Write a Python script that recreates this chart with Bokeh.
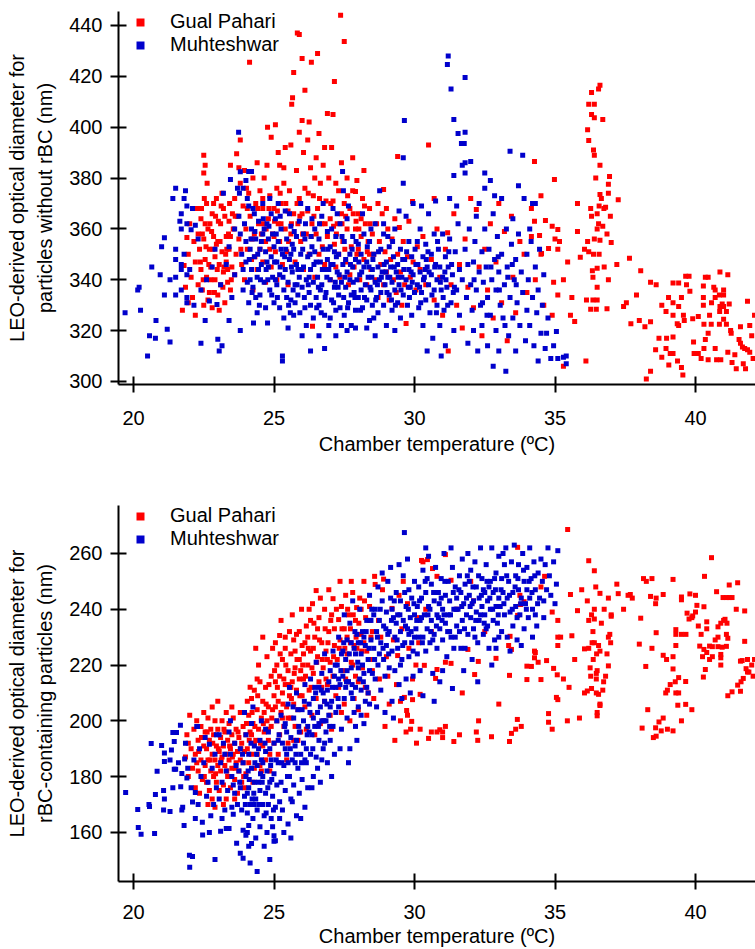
from bokeh.plotting import figure
from bokeh.models import Range1d, Legend, LegendItem, FixedTicker, ColumnDataSource
from bokeh.layouts import column
from bokeh.embed import file_html
from bokeh.resources import INLINE

# ---------------- data (x = chamber temperature degC, y = diameter nm) ----------------
x_ticks = [20, 25, 30, 35, 40]
y_ticks_top = [300, 320, 340, 360, 380, 400, 420, 440]
y_ticks_bot = [160, 180, 200, 220, 240, 260]
series_names = ["Gual Pahari", "Muhteshwar"]

muh_top = [
 (19.7,327),(20.15,336),(20.2,337),(20.25,328),(20.5,310),(20.57,318),(20.65,345),(20.78,317),(20.8,324),(20.95,342),
 (21.0,353),(21.1,356.5),(21.1,334),(21.2,320.5),(21.3,315.5),(21.5,376),(21.5,352),(21.5,348),(21.5,341),(21.5,334),
 (21.65,363),(21.7,366),(21.7,360),(21.7,346),(21.7,344),(21.7,336),(21.8,372),(21.85,375),(21.9,369),(21.9,362),
 (21.9,342),(21.9,333),(21.9,331),(22.05,359.7),(22.15,330),(22.2,361.4),(22.4,315),(22.55,324),(22.7,331.6),(22.97,330.3),
 (23.0,316.6),(23.05,312),(23.15,314),(23.2,374),(23.4,324),(23.45,379.4),(23.7,376),(23.74,398),(23.77,374),(23.8,382.5),
 (23.8,320),(23.9,376),(24.0,379),(24.1,382.6),(24.2,382.6),(21.3,340),(21.4,372),(22.1,368),(22.3,356),(22.6,340),
 (22.8,345),(22.9,352),(23.1,338),(23.3,346),(23.4,353),(23.5,333),(23.6,342),(23.6,360),(22.4,336),(21.8,350),(22.0,344),
 (23.75,365),(23.8,358),(23.85,350),(23.9,344),(23.9,336),(23.95,362),(24.0,355),(24.0,347),(24.05,339),(24.1,369),
 (24.1,331),(24.15,352),(24.2,360),(24.2,344),(24.25,337),(24.27,323),(24.3,366),(24.3,349),(24.35,356),(24.4,341),
 (24.4,327),(24.45,363),(24.5,352),(24.5,334),(24.55,346),(24.6,358),(24.6,370),(24.65,339),(24.7,351),(24.7,329),
 (24.75,362),(24.77,323),(24.8,345),(24.8,356),(24.85,336),(24.9,349),(24.9,366),(24.95,341),(25.0,353),(25.0,331),
 (24.05,372),(24.25,368),(24.45,344),(24.65,360),(24.85,372),(24.15,340),(24.35,333),(24.55,355),(24.75,347),(24.95,358),
 (25.05,364),(25.1,347),(25.1,338),(25.15,355),(25.2,342),(25.2,329),(25.25,360),(25.3,308),(25.3,310),(25.3,350),
 (25.35,336),(25.4,344),(25.4,367),(25.45,356),(25.5,321),(25.5,339),(25.55,348),(25.6,332),(25.6,361),(25.65,343),
 (25.7,352),(25.7,326),(25.75,338),(25.8,357),(25.8,346),(25.85,334),(25.9,363),(25.9,341),(25.95,350),(26.0,318),
 (26.0,337),(26.05,345),(26.1,356),(26.1,329),(26.15,340),(26.2,349),(26.2,368),(26.25,335),(26.3,312),(26.3,344),
 (26.35,353),(26.4,339),(26.4,325),(26.45,360),(26.5,347),(26.5,333),(25.15,370),(25.35,325),(25.55,366),(25.75,331),
 (25.95,370),(26.15,322),(26.35,364),(25.25,352),(25.45,333),(25.65,354),(25.85,344),(26.05,358),(26.25,341),(26.45,351),
 (25.05,340),(25.6,350),(26.3,330),
 (26.55,341),(26.6,356),(26.6,330),(26.65,347),(26.7,338),(26.7,365),(26.75,352),(26.8,326),(26.8,344),(26.85,335),
 (26.9,359),(26.9,348),(26.95,322),(27.0,340),(27.0,353),(27.05,332),(27.1,346),(27.1,368),(27.15,337),(27.2,357),
 (27.2,328),(27.25,343),(27.3,350),(27.3,334),(27.35,362),(27.4,339),(27.44,382.6),(27.45,346),(27.47,375),(27.5,326),
 (27.5,355),(27.55,337),(27.6,343),(27.6,364),(27.65,331),(27.7,350),(27.7,340),(27.75,322),(27.8,357),(27.8,345),
 (27.85,335),(27.9,348),(27.9,328),(27.95,340),(28.0,354),(28.0,333),(26.6,318),(26.8,313),(27.0,325),(27.2,318),
 (27.4,322),(27.6,320),(27.9,321),(26.75,370),(27.25,366),(27.65,369),(26.95,344),(27.15,351),(27.35,329),(27.55,348),
 (27.75,334),(26.65,336),(27.05,360),
 (28.05,342),(28.1,336),(28.1,350),(28.15,329),(28.2,345),(28.2,358),(28.25,338),(28.3,332),(28.3,347),(28.35,341),
 (28.4,324),(28.4,355),(28.45,336),(28.5,344),(28.5,330),(28.55,350),(28.6,339),(28.6,362),(28.65,333),(28.7,345),
 (28.7,327),(28.75,340),(28.76,375),(28.8,352),(28.8,335),(28.85,343),(28.9,330),(28.9,358),(28.95,338),(29.0,347),
 (29.0,322),(29.05,341),(29.1,334),(29.1,353),(29.15,345),(29.2,328),(29.2,339),(29.25,349),(29.3,336),(29.3,360),
 (29.35,343),(29.4,331),(29.4,346),(29.45,338),(29.5,352),(29.5,325),(29.55,341),(29.6,334),(29.6,378),(29.6,388),
 (29.64,402.6),(29.65,348),(29.7,340),(29.7,365),(29.75,330),(29.8,344),(29.8,355),(29.85,337),(29.9,349),(29.9,326),
 (29.95,342),(30.0,335),(28.3,321),(28.6,318),(28.9,362),(29.3,320),(28.15,366),(28.45,360),(29.45,367),(29.95,370),
 (28.55,325),(29.05,357),
 (30.05,346),(30.1,338),(30.1,355),(30.15,329),(30.2,343),(30.2,360),(30.25,335),(30.3,349),(30.3,322),(30.35,341),
 (30.4,354),(30.4,332),(30.45,345),(30.5,338),(30.5,366),(30.55,327),(30.6,350),(30.6,342),(30.65,317),(30.7,336),
 (30.7,358),(30.75,346),(30.8,330),(30.8,340),(30.85,352),(30.9,322),(30.9,345),(30.95,336),(31.0,358),(31.0,341),
 (31.05,328),(31.1,349),(31.1,314),(31.15,337),(31.17,424.7),(31.2,428),(31.2,345),(31.25,356),(31.3,415),(31.3,331),
 (31.35,342),(31.4,403),(31.4,381),(31.4,320),(31.45,351),(31.5,336),(31.55,397.5),(31.55,362),(31.6,344),(31.6,326),
 (31.67,393.6),(31.7,385),(31.7,340),(31.77,393.6),(31.8,419.5),(31.8,398),(31.8,386),(31.8,382),(31.8,352),(31.85,333),
 (31.9,315),(31.9,346),(31.95,360),(32.0,386.5),(32.0,338),(30.25,369),(30.75,371),(31.25,372),(30.45,312),(30.95,310),
 (31.5,369),
 (32.05,328),(32.1,347),(32.1,320),(32.15,355),(32.2,336),(32.2,365),(32.25,312),(32.3,343),(32.35,330),(32.4,351),
 (32.4,322),(32.45,339),(32.5,382),(32.5,376),(32.5,360),(32.55,345),(32.6,314),(32.6,333),(32.65,352),(32.7,379),
 (32.7,326),(32.75,340),(32.8,306),(32.8,366),(32.85,348),(32.9,320),(32.9,336),(32.95,357),(33.0,343),(33.0,312),
 (33.05,330),(33.1,372),(33.1,350),(33.15,325),(33.2,338),(33.25,304),(33.27,360),(33.3,345),(33.35,318),(33.4,390.5),
 (33.4,333),(33.45,354),(33.5,325),(33.5,364),(33.55,340),(33.6,312),(33.6,348),(33.65,331),(33.7,358),(33.75,322),
 (33.8,343),(33.85,389),(33.85,335),(33.9,372),(33.95,316),(34.0,350),(32.3,370),(32.85,373),(33.7,377),(34.0,328),
 (34.05,340),(34.1,322),(34.15,355),(34.2,370),(34.2,333),(34.25,314),(34.3,370),(34.3,345),(34.35,327),(34.4,336),
 (34.45,352),(34.5,319),(34.55,330),(34.6,342),(34.65,313),(34.7,319),(34.75,325),(34.85,309),(34.95,314),(35.05,319.6),
 (35.1,309),(35.3,309.5),(35.4,307),(35.4,310),(34.1,360),(34.4,308),
]

muh_top_core = [
 (24.12,348),(24.22,335),(24.32,359),(24.42,350),(24.52,340),(24.62,364),(24.72,344),(24.82,361),(24.92,334),(25.02,347),
 (25.12,333),(25.22,365),(25.32,341),(25.42,352),(25.52,330),(25.62,345),(25.72,359),(25.82,338),(25.92,327),(26.02,352),
 (26.12,362),(26.22,338),(26.32,357),(26.42,346),(26.52,329),(26.62,362),(26.72,344),(26.82,333),(26.92,352),(27.02,346),
 (27.12,331),(27.22,349),(27.32,342),(27.42,357),(27.52,341),(27.62,329),(27.72,346),(27.82,339),(27.92,355),(28.02,347),
 (28.12,343),(28.22,333),(28.32,353),(28.42,337),(28.52,348),(28.62,332),(28.72,351),(28.82,341),(28.92,346),(29.02,335),
 (29.12,341),(29.22,355),(29.32,330),(29.42,341),(29.52,336),(29.62,344),(29.72,351),(29.82,333),(29.92,339),(30.02,352),
 (30.12,346),(30.22,331),(30.32,340),(30.42,348),(30.52,343),(30.62,334),(30.72,345),(30.82,355),(30.92,339),(31.02,333),
 (31.12,340),(31.22,351),(31.32,346),(31.42,337),(24.18,356),(24.48,330),(24.78,340),(25.08,358),(25.38,349),(25.68,336),
 (25.98,344),(26.28,350),(26.58,337),(26.88,341),(27.18,339),(27.48,333),(27.78,352),(28.08,328),(28.38,345),(28.68,338),
 (28.98,343),(29.28,345),(29.58,348),(29.88,343),(30.18,337),(30.48,351),(30.78,327),(31.08,343),(31.38,335),(25.22,345),
 (25.58,327),(26.08,333),(26.68,327),(27.28,337),(27.88,333),(28.48,341),(29.18,332),(29.78,337),(30.38,344),(31.18,330),
 (32.12,340),(32.42,331),(32.72,345),(33.02,336),(33.32,341),(33.62,338),(32.58,326),(32.98,349),(33.22,322),(33.48,346),
]

gual_top = [
 (21.74,328),(21.8,345.6),(21.9,356.6),(21.85,337),(21.95,350),(22.0,362),(22.05,341),(22.1,333),(22.15,355),(22.2,326),
 (22.2,347),(22.25,368),(22.3,338),(22.3,358),(21.95,331),
 (22.35,352),(22.4,344),(22.4,364),(22.45,336),(22.5,389),(22.5,382),(22.5,356),(22.5,330),(22.55,385),(22.55,348),
 (22.6,341),(22.6,370),(22.65,360),(22.7,335),(22.7,352),(22.75,345),(22.8,366),(22.8,329),(22.85,357),(22.9,340),
 (22.9,349),(22.95,372),(23.0,334),(23.0,355),(23.05,346),(23.1,362),(23.1,338),(23.15,351),(23.2,343),(23.2,368),
 (23.25,331),(23.3,357),(23.3,347),(23.35,339),(23.4,363),(23.4,352),(23.45,385),(23.45,336),(23.5,345),(22.45,358),
 (22.65,332),(22.85,370),(23.05,328),(23.25,365),(23.45,357),(22.55,362),(22.75,340),(22.95,354),(23.15,374),(23.35,344),
 (23.55,360),(23.6,372),(23.67,389.6),(23.65,350),(23.7,365),(23.75,356),(23.8,395),(23.8,378),(23.85,346),(23.9,369),
 (23.95,383),(24.0,360),(24.05,352),(24.1,374),(24.13,425.5),(24.15,365),(24.2,348),(24.25,380),(24.3,358),(24.35,370),
 (24.4,344),(24.45,362),(24.5,375),(24.5,352),(23.6,342),(23.95,340),(24.25,336),(24.4,386),(23.75,384),(24.05,368),
 (24.55,358),(24.6,347),(24.6,368),(24.65,380),(24.7,339),(24.7,355),(24.77,400),(24.8,364),(24.85,373),(24.9,396),
 (24.9,345),(24.95,358),(25.0,368),(25.05,401),(25.05,351),(25.1,376),(25.1,340),(25.15,362),(25.2,385),(25.2,355),
 (25.25,370),(25.3,346),(25.35,378),(25.4,360),(25.4,392),(25.45,351),(25.5,367),(25.5,338),(24.75,385),(25.25,362),
 (24.6,372),(25.0,357),(25.35,384),(24.85,352),(25.15,390),
 (25.55,375),(25.6,358),(25.63,409),(25.66,411.6),(25.7,421.5),(25.7,366),(25.75,347),(25.8,383),(25.83,437),(25.85,362),
 (25.9,436.5),(25.9,372),(25.95,355),(26.0,427),(26.0,402.6),(26.0,366),(26.05,390),(26.05,344),(26.1,414.5),(26.1,376),
 (26.15,358),(26.2,395),(26.2,367),(26.25,350),(26.3,384),(26.33,425.5),(26.35,362),(26.37,321.7),(26.4,373),(26.45,341),
 (26.5,388),(26.5,358),(26.55,429),(26.55,368),(26.6,397.5),(26.6,350),(26.65,378),(26.7,362),(26.75,385),(26.8,346),
 (26.85,371),(26.9,405.4),(26.9,357),(26.95,380),(27.0,364),(27.0,340),(27.05,392),(27.1,405),(27.1,371),(27.15,418),
 (27.15,354),(27.2,378),(27.2,345),(25.6,393),(25.9,398),(26.25,402),(26.8,392),(26.45,380),
 (27.25,362),(27.3,350),(27.3,375),(27.35,341),(27.37,444),(27.4,366),(27.45,355),(27.5,433.7),(27.5,370),(27.55,347),
 (27.6,360),(27.6,380),(27.65,338),(27.7,368),(27.75,353),(27.8,375),(27.85,345),(27.9,374.7),(27.9,360),(27.95,379),
 (27.95,350),(28.0,366),(28.05,340),(28.1,357),(28.15,372),(28.2,348),(28.25,362),(28.3,338),(28.35,355),(28.4,368),
 (28.45,344),(28.5,358),(27.4,386),(27.8,388),(28.2,383),(27.55,365),(28.0,352),(28.4,350),(27.7,342),(28.1,364),
 (28.55,350),(28.6,340),(28.65,362),(28.7,333),(28.75,355),(28.8,346),(28.85,366),(28.9,375.5),(28.9,338),(28.95,351),
 (29.0,343),(29.05,360),(29.1,332),(29.15,348),(29.2,356),(29.25,340),(29.3,364),(29.35,335),(29.4,388.5),(29.4,350),
 (29.46,360.5),(29.5,343),(29.55,330),(29.6,355),(29.65,338),(29.7,322.8),(29.75,349),(29.8,363),(29.85,341),(29.93,370.8),
 (29.95,347),(30.05,336),(30.1,353),(30.2,344),(30.3,357),(30.4,338),(30.5,393),(29.0,368),(28.7,370),
 (30.6,348),(30.7,332),(30.8,360),(30.9,341),(31.0,326),(31.1,352),(31.18,358.5),(31.3,338),(31.4,366),(31.5,330),
 (31.6,346),(31.7,321),(31.8,356),(31.9,337),(32.0,372),(32.1,329),(32.2,367.6),(32.3,345),(32.4,318),(32.5,352),
 (32.6,336),(32.7,362),(32.8,325),(32.9,347),(33.0,370),(33.1,331),(33.2,359),(33.3,316),(33.45,365),(33.5,341),
 (33.6,327),(33.75,355),(33.9,350),(34.0,335),(30.7,372),(31.2,312),
 (34.16,368),(34.16,357),(34.27,386.5),(34.27,363),(34.45,357.4),(34.5,373),(34.5,350),(34.52,350.3),(34.66,363.3),(34.77,352.3),
 (34.9,361),(34.9,326),(34.95,339),(34.98,379.4),(35.0,356),(35.1,359.8),(35.1,352),(35.1,334),(35.16,355),(35.3,306),
 (35.45,347),(35.55,326),(35.6,333),(35.7,323.6),(35.8,370),(35.8,359),(35.9,348.8),(36.1,308),(34.3,340),(34.6,330),
 (35.3,340),
 (36.05,352),(36.12,332),(36.16,399),(36.16,355),(36.2,409),(36.2,394.8),(36.2,351),(36.27,368),(36.27,328.4),(36.3,413.6),
 (36.3,405),(36.3,365),(36.33,343.5),(36.35,341),(36.35,332),(36.37,391),(36.37,350),(36.4,409),(36.4,403.7),(36.4,389),
 (36.47,328.4),(36.5,366),(36.5,360),(36.5,344.5),(36.5,337),(36.5,332),(36.55,415),(36.57,369),(36.57,350),(36.6,416.5),
 (36.6,373.5),(36.6,355.5),(36.65,372),(36.7,403),(36.7,361),(36.74,368),(36.8,368.5),(36.85,358),(36.85,328.6),(36.9,377.6),
 (36.9,374),(36.94,380.6),(36.97,365),(37.0,354.6),(36.45,380),(36.6,385),(36.75,345),(36.9,340),(36.55,362),(36.4,356),
 (37.2,346),(37.25,371.5),(37.44,329.5),(37.54,331),(37.65,348.5),(37.7,322.7),(38.0,324),(38.05,343.5),(38.15,297.7),(38.2,321.5),
 (38.25,301),(38.4,304),(38.4,339),(38.4,323.5),(38.58,312.5),(38.6,338),(38.7,317),(38.8,309.5),(38.8,330),(37.9,334),
 (38.95,313),(38.95,327.5),(38.97,317),(39.04,333),(39.05,306.5),(39.1,311),(39.2,311),(39.2,317.5),(39.2,326),(39.2,331),
 (39.2,338.7),(39.35,322.7),(39.36,308),(39.4,322),(39.4,329.5),(39.4,338.7),(39.5,305.5),(39.5,333),(39.55,302.5),(39.57,326),
 (39.6,324),(39.65,341.4),(39.68,338),(39.77,341.4),(39.8,335.5),(39.9,324.7),(39.93,315.5),(39.95,311),(40.1,311),(40.1,325.5),
 (40.2,309),(40.28,330),(40.28,333),(40.28,337.5),(40.3,313),(40.3,322.5),(40.35,316.5),(40.35,341),(40.45,319),(40.45,308.5),
 (40.45,341),(40.5,326),(40.56,322.5),(40.57,331),(40.65,337),(40.7,313),(40.7,333),(40.7,336),(40.75,308.5),(40.85,334),
 (40.85,322.5),(40.86,327.5),(40.87,329.5),(40.87,343),(40.9,308.5),(40.95,330.5),(41.0,334),(41.0,329.5),(41.0,324.5),(41.0,336),
 (41.1,327.5),(41.1,322.5),(41.15,342),(41.15,311.5),(41.2,330.5),(41.25,320),(41.27,319),(41.3,307.5),(41.4,310.5),(41.45,305),
 (41.55,316.5),(41.6,315),(41.6,321.5),(41.67,313.5),(41.7,307),(41.75,313),(41.78,305),(41.85,312.5),(41.85,331.5),(41.93,311.5),
 (41.93,322),(42.0,318),(42.05,309),(42.1,326),
]

gual_top_core = [
 (22.38,347),(22.48,340),(22.58,353),(22.68,346),(22.78,359),(22.88,335),(22.98,344),(23.08,355),(23.18,337),(23.28,350),
 (23.38,358),(23.48,340),(22.42,368),(22.62,378),(22.82,352),(23.02,363),(23.22,345),(23.42,370),(23.62,365),(23.82,352),
 (24.02,376),(24.22,356),(24.42,368),(24.62,362),(24.82,368),(25.02,363),(25.22,374),(25.42,370),(25.62,362),(25.82,370),
 (26.02,358),(26.22,374),(26.42,365),(26.62,372),(26.82,362),(27.02,370),(27.22,358),(27.42,362),(27.62,373),(27.82,366),
 (28.02,360),(28.22,369),(28.42,362),(24.32,349),(24.72,360),(25.12,367),(25.52,355),(25.92,365),(26.32,357),(26.72,353),
 (27.12,361),(27.52,352),(27.92,363),(28.32,351),(22.52,372),(22.72,362),(22.92,365),(23.12,369),(23.32,352),(23.52,366),
]

muh_bot = [
 (19.72,174.3),(20.15,168.2),(20.17,161.8),(20.27,159.3),(20.55,170),(20.57,169.3),(20.63,191.9),(20.75,159.6),(20.78,173.6),(20.84,181.9),
 (21.0,191.2),(21.07,175),(21.07,168),(21.1,185.4),(21.1,188.5),(21.1,172),(21.3,167.5),(21.3,186),(21.35,189.5),(21.4,195.8),
 (21.45,192.6),(21.45,182.6),(21.5,182.6),(21.53,195.8),(21.4,176),
 (21.67,198.4),(21.68,176.4),(21.72,181.1),(21.72,168),(21.75,169),(21.8,162.5),(21.82,186.3),(21.9,179.5),(21.93,183),(21.99,151.8),
 (22.0,147.5),(22.1,151.4),(22.1,170.9),(22.2,174.3),(22.25,198),(22.28,198),(22.3,170),(22.45,163.6),(22.46,159.1),(22.5,185),
 (22.6,173),(22.7,191.6),(22.65,178),(22.8,183),(22.9,150.3),(22.85,170),(22.95,176),(22.35,190),(22.55,194),(22.75,166),
 (22.15,186),(21.85,192),(22.4,180),(22.05,176),(22.9,188),(21.6,185),(22.7,160),(22.2,165),(22.95,195),
 (23.05,172),(23.1,160.4),(23.1,185),(23.15,178),(23.2,192),(23.25,168),(23.3,161.4),(23.3,182),(23.35,175),(23.4,161.4),
 (23.4,196),(23.45,188),(23.5,169),(23.5,180),(23.55,166.5),(23.6,174),(23.6,192),(23.65,184),(23.67,156.1),(23.7,170),
 (23.05,195),(23.25,188),(23.45,200),(23.55,177),(23.15,165),
 (23.75,182),(23.8,152.5),(23.8,176),(23.8,190),(23.85,168),(23.9,150.7),(23.9,160.8),(23.9,185),(23.95,173),(24.0,159),
 (24.0,195),(24.0,180),(24.05,160),(24.05,167),(24.1,155),(24.1,162.5),(24.1,188),(24.1,176),(24.15,170),(24.2,156),
 (24.2,183),(24.2,199),(24.25,165),(24.3,178),(24.3,191),(24.35,172),(24.4,146),(24.4,184),(24.4,168),(24.45,178),
 (24.5,162),(24.5,193),(24.5,175),(24.55,186),(24.6,170),(24.6,180),(24.65,166),(24.7,189),(24.7,174),(24.75,160),
 (24.75,182),(24.8,196),(24.8,170),(24.85,150.3),(24.85,178),(24.9,165),(24.9,186),(24.95,173),(25.0,156.8),(25.0,158.8),
 (25.0,181),(25.0,192),(25.05,169),(25.05,157),(25.1,177),(25.1,200),(25.15,185),(25.2,171),(25.2,165),(24.25,205),
 (24.55,200),(23.95,203),(24.35,158),(24.65,155),(24.15,149),(24.95,162),(24.45,190),(24.7,197),(24.3,170),(24.6,185),
 (24.85,190),(24.05,174),(25.15,193),
 (25.25,178),(25.3,192),(25.3,168),(25.35,184),(25.4,199),(25.4,175),(25.45,188),(25.5,163),(25.5,206),(25.55,180),
 (25.6,194),(25.6,172),(25.65,186),(25.7,201),(25.7,177),(25.75,191),(25.8,166),(25.8,210),(25.85,183),(25.9,196),
 (25.9,174),(25.95,188),(26.0,204),(26.0,179),(26.05,192),(26.1,169),(26.1,213),(26.15,185),(26.2,198),(26.2,176),
 (25.35,160),(25.65,171),(25.95,165),(25.45,196),(25.75,185),(26.05,200),(25.55,212),(25.85,204),(26.15,190),(25.25,202),
 (25.5,185),(25.8,193),(26.1,186),(25.6,158),(25.4,190),
 (26.25,206),(26.3,188),(26.3,215),(26.35,195),(26.4,180),(26.4,208),(26.45,198),(26.5,221),(26.5,187),(26.55,203),
 (26.6,193),(26.6,212),(26.65,178),(26.7,200),(26.7,217),(26.75,190),(26.8,207),(26.8,224),(26.85,196),(26.9,185),
 (26.9,211),(26.95,202),(27.0,218),(27.0,193),(27.05,207),(27.1,198),(27.1,225),(27.15,188),(27.2,212),(27.2,203),
 (26.35,176),(26.55,183),(26.75,210),(26.95,214),(27.05,180),(26.45,212),(26.65,205),(26.85,200),(27.15,216),(26.25,196),
 (26.6,199),(26.8,192),(27.0,205),(26.4,201),(26.7,186),
 (27.25,220),(27.3,205),(27.3,230),(27.35,213),(27.4,197),(27.4,224),(27.45,216),(27.5,238),(27.5,208),(27.55,222),
 (27.6,201),(27.6,229),(27.65,214),(27.7,190),(27.7,235),(27.75,219),(27.8,208),(27.8,243),(27.85,226),(27.9,212),
 (27.9,198),(27.95,231),(28.0,219),(28.0,205),(28.05,240),(28.1,224),(28.1,211),(28.15,232),(28.2,217),(28.2,199),
 (28.25,227),(28.3,236),(28.3,212),(28.35,222),(28.4,245),(28.4,206),(28.45,229),(28.5,217),(27.35,190),(27.65,185),
 (27.95,193),(27.55,212),(27.75,228),(28.05,215),(28.25,207),(28.45,236),(27.45,225),(27.85,203),(28.15,220),(28.35,210),
 (27.6,218),(27.9,224),(28.2,230),(27.3,215),(28.0,228),(28.4,218),(27.75,210),(28.1,202),
 (28.55,226),(28.6,215),(28.6,240),(28.65,232),(28.7,220),(28.7,248),(28.75,236),(28.8,211),(28.8,228),(28.85,243),
 (28.9,222),(28.9,234),(28.95,216),(29.0,239),(29.0,227),(29.05,250),(29.1,219),(29.1,232),(29.15,244),(29.2,225),
 (29.2,207),(29.25,237),(29.3,230),(29.3,218),(29.35,246),(29.4,226),(29.4,238),(29.45,213),(29.5,232),(29.5,243),
 (29.55,222),(29.6,236),(29.6,252),(29.65,228),(29.7,215),(29.7,241),(29.75,233),(29.8,247),(29.8,223),(29.85,237),
 (29.9,228),(29.9,244),(29.95,216),(30.0,238),(30.0,230),(28.65,205),(28.95,203),(29.25,201),(29.55,208),(29.85,210),
 (29.64,267.5),(28.85,253),(29.15,255),(29.45,256),(29.75,258),(28.75,224),(29.05,231),(29.35,235),(29.65,246),(29.95,225),
 (28.55,238),(29.2,240),(29.5,220),(29.8,231),(30.0,250),
 (30.05,233),(30.1,241),(30.1,224),(30.15,248),(30.2,236),(30.2,218),(30.25,244),(30.3,230),(30.3,254),(30.35,238),
 (30.4,225),(30.4,246),(30.45,233),(30.5,259),(30.5,241),(30.55,228),(30.6,249),(30.6,236),(30.65,217),(30.7,243),
 (30.7,231),(30.75,255),(30.8,238),(30.8,226),(30.85,246),(30.9,233),(30.9,214),(30.95,251),(31.0,240),(31.0,229),
 (31.05,260),(31.1,245),(31.1,235),(31.15,223),(31.2,250),(31.2,238),(31.25,243),(31.3,230),(31.35,211.6),(31.35,255),
 (31.4,240),(31.4,226),(31.45,248),(31.5,234),(31.5,244),(30.3,209),(30.7,207),(31.0,218),(30.15,230),(30.45,251),
 (30.85,237),(31.25,232),(30.55,240),(30.95,244),(31.3,262),(30.25,237),(30.65,229),(31.05,238),(31.45,230),(30.4,262),
 (31.55,240),(31.6,252),(31.6,232),(31.65,246),(31.7,236),(31.7,258),(31.75,242),(31.8,226),(31.8,249),(31.85,238),
 (31.9,260),(31.9,231),(31.95,245),(32.0,237),(32.0,254),(32.05,222),(32.1,243),(32.1,233),(32.15,257),(32.2,239),
 (32.2,248),(32.25,228),(32.3,244),(32.3,236),(32.35,262),(32.4,241),(32.4,251),(32.45,231),(32.5,246),(32.5,238),
 (32.55,256),(32.6,234),(32.6,243),(32.65,226),(32.7,250),(32.7,240),(32.75,262),(32.8,236),(32.8,246),(32.85,229),
 (32.9,253),(32.9,241),(32.95,235),(33.0,259),(33.0,244),(31.75,218),(32.25,214),(32.75,220),(31.65,226),(32.15,230),
 (32.55,233),(32.85,251),(31.95,250),(32.45,247),(33.0,230),(31.85,244),(32.35,238),(32.65,248),(32.05,242),(32.9,226),
 (33.05,241),(33.1,251),(33.1,232),(33.15,246),(33.2,256),(33.2,238),(33.25,262),(33.3,244),(33.3,230),(33.35,250),
 (33.4,239),(33.45,257),(33.5,246),(33.5,234),(33.55,263),(33.6,241),(33.6,252),(33.65,229),(33.7,247),(33.7,256),
 (33.75,238),(33.8,244),(33.85,260),(33.9,250),(33.9,233),(33.95,242),(34.0,255),(34.0,247),(34.05,237),(34.1,262),
 (34.1,244),(34.15,251),(34.2,240),(34.25,257),(34.3,247),(34.35,234),(34.4,253),(34.45,244),(34.5,258),(33.4,225),
 (33.8,227),(34.2,230),(33.15,260),(33.65,237),(34.3,238),
 (34.55,250),(34.6,243),(34.65,256),(34.7,247),(34.75,262),(34.8,252),(34.85,245),(34.95,257),(35.05,249),(35.1,261),
 (34.6,237),(35.0,242),
]

muh_bot_core = [
 (23.78,178),(23.88,188),(23.98,170),(24.08,182),(24.18,192),(24.28,174),(24.38,188),(24.48,170),(24.58,178),(24.68,192),
 (24.78,176),(24.88,184),(24.98,168),(25.08,186),(24.12,179),(24.32,185),(24.52,181),(24.72,167),(24.92,179),(24.22,172),
 (25.18,195),(25.28,185),(25.38,198),(25.48,180),(25.58,190),(25.68,205),(25.78,188),(25.88,198),(25.98,185),(26.08,207),
 (26.18,195),(26.28,203),(26.38,190),(26.48,210),(26.58,198),(26.68,211),(26.78,200),(26.88,206),(26.98,198),(27.08,212),
 (27.18,220),(27.28,208),(27.38,218),(27.48,228),(27.58,214),(27.68,224),(27.78,213),(27.88,232),(27.98,221),(28.08,228),
 (28.18,214),(28.28,232),(28.38,226),(28.48,240),(28.58,222),(28.68,230),(28.78,240),(28.88,226),(28.98,233),(29.08,224),
 (29.18,236),(29.28,243),(29.38,229),(29.48,238),(29.58,227),(29.68,234),(29.78,240),(29.88,232),(29.98,242),(30.08,236),
 (30.18,243),(30.28,228),(30.38,250),(30.48,238),(30.58,232),(30.68,246),(30.78,234),(30.88,242),(30.98,236),(31.08,250),
 (31.18,232),(31.28,238),(31.38,246),(31.48,240),(31.58,247),(31.68,241),(31.78,233),(31.88,252),(31.98,241),(32.08,248),
 (32.18,236),(32.28,252),(32.38,245),(32.48,235),(32.58,250),(32.68,244),(32.78,240),(32.88,247),(32.98,238),(33.08,247),
 (33.18,242),(33.28,252),(33.38,245),(33.48,240),(33.58,248),(33.68,251),(33.78,242),(33.88,254),(33.98,240),(34.08,250),
 (34.18,246),(34.28,252),(34.38,242),
]

gual_bot = [
 (21.85,187),(21.9,195),(21.95,180),(22.0,202),(22.05,190),(22.1,183),(22.15,197),(22.2,176),(22.2,188),(22.25,200),
 (22.3,182),(22.3,193),(22.35,174),(22.4,186),(22.4,198),(22.45,179),(22.5,191),(22.5,203),(21.95,192),(22.25,185),
 (22.55,184),(22.55,196),(22.6,178),(22.6,190),(22.65,201),(22.65,186),(22.7,175),(22.7,193),(22.75,182),(22.75,197),
 (22.8,188),(22.8,172),(22.85,195),(22.85,180),(22.9,186),(22.9,200),(22.95,178),(22.95,191),(23.0,184),(23.0,197),
 (23.05,175),(23.05,189),(23.1,182),(23.1,194),(23.15,187),(23.15,200),(23.2,177),(23.2,191),(23.25,184),(23.25,196),
 (23.3,172),(23.3,188),(23.35,180),(23.35,193),(23.4,186),(23.4,199),(23.45,176),(23.45,190),(23.5,183),(23.5,195),
 (23.55,188),(23.55,201),(23.6,179),(23.6,192),(23.65,185),(23.65,197),(23.7,174),(23.7,189),(23.75,182),(23.75,194),
 (23.8,186),(23.8,203),(23.85,178),(23.85,192),(23.9,185),(23.9,198),(23.95,189),(24.0,181),(24.0,195),(22.65,170),
 (23.0,207),(23.5,205),(22.8,205),(23.3,203),(23.2,170),(22.9,169),(23.6,172),(23.95,176),
 (24.05,190),(24.1,202),(24.1,185),(24.15,196),(24.2,208),(24.2,188),(24.25,199),(24.3,183),(24.3,211),(24.35,193),
 (24.4,204),(24.4,188),(24.45,197),(24.5,214),(24.5,184),(24.55,201),(24.6,191),(24.6,207),(24.65,196),(24.7,186),
 (24.7,212),(24.75,200),(24.8,193),(24.8,205),(24.85,188),(24.9,216),(24.9,198),(24.95,204),(25.0,192),(25.0,209),
 (24.25,178),(24.55,182),(24.85,182),(24.15,212),(24.45,220),(24.75,223),(24.35,226),(24.95,226),(24.6,230),(24.2,195),
 (24.65,203),(24.8,197),(24.4,215),(24.05,207),(24.3,192),
 (25.05,214),(25.05,228),(25.1,200),(25.1,220),(25.15,207),(25.2,230.6),(25.2,195),(25.2,216),(25.25,203),(25.3,222),
 (25.3,210),(25.35,198),(25.4,226),(25.4,213),(25.45,205),(25.5,218),(25.5,192),(25.55,232),(25.55,209),(25.6,201),
 (25.6,224),(25.65,214),(25.7,206),(25.7,229),(25.75,198),(25.75,219),(25.8,231),(25.8,211),(25.85,204),(25.9,222),
 (25.9,215),(25.95,196),(25.98,240),(26.0,227),(26.0,209),(25.15,188),(25.45,186),(25.85,193),(25.25,236),(25.65,238),
 (25.35,215),(25.6,212),(25.9,232),(25.05,205),(25.5,201),(25.75,225),(25.3,201),(25.95,218),(25.4,230),(25.7,193),
 (26.05,215),(26.1,228),(26.1,205),(26.15,234),(26.2,220),(26.25,211),(26.3,236),(26.3,225),(26.35,202),(26.37,242),
 (26.4,217),(26.45,230),(26.5,246.7),(26.5,208),(26.55,223),(26.6,237),(26.6,214),(26.65,199),(26.7,228),(26.75,219),
 (26.8,240),(26.8,207),(26.85,225),(26.9,213),(26.95,232),(27.0,221),(27.0,202),(27.05,238),(27.1,243.8),(27.1,216),
 (27.15,227),(27.2,209),(26.15,197),(26.45,195),(26.75,200),(27.05,197),(26.25,240),(26.65,244),(26.95,247),(26.4,226),
 (26.7,212),(26.2,230),(26.55,233),(26.9,222),(27.15,233),(26.35,219),(26.85,215),(26.05,224),
 (27.25,222),(27.3,236.3),(27.3,212),(27.35,229),(27.4,241),(27.45,218),(27.5,233),(27.5,206),(27.55,245),(27.6,224),
 (27.65,214),(27.72,233),(27.75,250),(27.8,246),(27.8,220),(27.85,208),(27.9,236),(27.94,240.6),(27.95,226),(28.0,214),
 (28.05,244),(28.1,231),(28.15,219),(28.2,250),(28.26,237),(28.3,225),(28.35,210),(28.4,241),(28.45,230),(28.5,218),
 (28.58,251.8),(28.6,248.9),(27.4,203),(27.7,200),(28.0,204),(28.3,202),(28.55,208),(27.6,230),(27.9,216),(28.2,228),
 (28.45,222),(27.35,250),(27.65,238),(28.1,240),(28.4,236),(27.55,215),(27.85,227),(28.25,212),(28.5,232),(27.75,221),
 (28.72,236),(28.86,247),(28.9,250.8),(29.0,223),(29.2,240.3),(29.36,213),(29.4,223.4),(29.5,207),(29.5,200),(29.64,208.4),
 (29.7,196),(29.72,203.7),(29.75,202),(29.86,197),(29.9,199.8),(29.93,215),(29.93,207.6),(30.2,209.5),(30.2,197),(30.07,192),
 (29.3,193),(28.8,230),(29.05,216),(29.25,229),(29.55,233),(29.8,226),(30.05,220),(28.75,215),(29.1,206),(29.45,245),
 (29.75,242),(30.1,237),(28.95,198),(29.6,250),(30.15,228),
 (30.25,257.5),(30.3,257),(30.35,219.9),(30.46,257.8),(30.5,193.7),(30.6,196),(30.64,254.6),(30.75,215.2),(30.8,251.8),(30.8,218.4),
 (30.8,196),(30.9,196.8),(31.0,196),(31.0,194),(31.1,259.6),(31.1,221),(31.1,198),(31.3,250.4),(31.3,220.6),(31.4,192.6),
 (31.6,195),(31.9,225.6),(32.1,243),(32.14,216.6),(32.2,196),(32.25,193),(32.27,221.3),(32.28,200),(32.74,194.3),(32.9,222.4),
 (33.35,227),(33.38,216.3),(33.38,192.6),(33.4,230.3),(33.45,225.6),(33.45,195.5),(33.6,197),(33.66,200.5),(33.67,262.2),(33.67,237.8),
 (33.75,245),(33.77,241.7),(33.8,198),(33.9,242.7),(34.0,219.6),(34.0,214.8),(34.16,219.5),(34.27,225),(34.27,222.6),(34.3,224.5),
 (34.5,214.8),(34.5,248),(34.63,251.8),(30.6,232),(31.5,240),(32.5,232),(33.0,206),(31.7,210),(30.4,240),(32.0,250),
 (34.7,221.6),(34.77,202.6),(34.77,199.5),(34.9,239),(34.9,197),(34.95,218.8),(35.05,208.4),(35.08,216.5),(35.1,236),(35.1,230),
 (35.1,227),(35.1,207.6),(35.2,230),(35.44,200),(35.45,268.6),(35.55,245.3),(35.6,230.5),(35.8,239.5),(35.87,201),(34.4,221),
 (35.3,215),(35.7,222),(35.95,247),(35.5,212),
 (36.05,225.8),(36.05,210),(36.15,243),(36.15,210.7),(36.2,257.4),(36.2,226),(36.25,219),(36.27,216),(36.3,238),(36.3,211.6),
 (36.32,228),(36.36,222),(36.4,253.8),(36.4,240),(36.4,236.5),(36.47,217),(36.47,215),(36.47,210),(36.48,224),(36.5,218),
 (36.5,203),(36.5,201.8),(36.55,227),(36.55,209.5),(36.6,245.7),(36.6,225),(36.6,206),(36.6,205.5),(36.7,211),(36.73,214),
 (36.75,240),(36.9,244),(36.9,230),(36.9,219.7),(36.95,231),(36.98,228),(37.0,238),(37.0,237.5),(36.35,232),(36.65,235),
 (36.85,224),(36.45,248),(36.2,236),(36.8,216),(36.4,228),
 (37.2,249),(37.25,245.6),(37.44,240),(37.6,245),(37.68,245.3),(37.75,244),(38.0,227.5),(38.05,236.8),(38.1,197.4),(38.15,251),
 (38.23,219.5),(38.25,250),(38.3,204),(38.4,244.6),(38.45,251),(38.45,226),(38.5,194),(38.58,242),(38.58,197.5),(38.6,244),
 (38.6,231.6),(38.6,194.5),(38.7,199.6),(38.78,196.4),(38.85,245.3),(38.85,223.5),(38.85,201),(38.94,210),(38.97,222),(39.0,211),
 (39.0,197),(39.1,213),(39.2,250.7),(39.2,223),(39.2,218.6),(39.2,196.4),(39.28,214),(39.3,232.7),(39.3,231),(39.3,227),
 (39.3,210),(39.37,205.6),(39.4,215.5),(39.4,210),(39.5,244.4),(39.5,243.4),(39.5,231),(39.5,200),(39.65,205.9),(39.65,214.1),
 (39.66,231),(39.7,238.6),(39.77,236.5),(39.8,245.5),(39.87,237),(39.87,204),(39.9,237.6),(40.0,245),(40.0,239),(40.05,241.4),
 (40.1,234),(40.15,226.8),(40.2,231),(40.25,223),(40.28,215.7),(40.3,240.9),(40.3,225.6),(40.32,251.8),(40.35,218.4),(40.4,235.5),
 (40.4,233),(40.4,224.5),(40.5,226.8),(40.5,222),(40.57,258.5),(40.6,226.6),(40.6,223),(40.7,229),(40.75,246.3),(40.8,233.7),
 (40.8,230),(40.8,226.6),(40.9,235),(40.9,223.8),(40.9,222.6),(40.9,220),(40.95,226.4),(40.98,244.2),(41.0,236),(41.05,236.4),
 (41.1,244.2),(41.1,226.7),(41.1,231),(41.12,235),(41.15,229.6),(41.15,209),(41.2,244.2),(41.2,248.7),(41.3,244.2),(41.3,210.4),
 (41.45,240),(41.5,249.5),(41.5,212.8),(41.6,221.4),(41.6,210.6),(41.62,214),(41.66,221.6),(41.7,215.2),(41.75,239.4),(41.75,228.5),
 (41.8,218.7),(41.85,222),(41.85,217.5),(41.9,217.5),(42.0,220),(42.05,216),(42.1,222),
]

gual_bot_core = [
 (22.32,189),(22.42,194),(22.52,180),(22.62,196),(22.72,186),(22.82,192),(22.92,181),(23.02,190),(23.12,186),(23.22,197),
 (23.32,182),(23.42,191),(23.52,187),(23.62,183),(23.72,196),(23.82,190),(23.92,180),(24.02,199),(24.12,193),(24.22,203),
 (24.32,198),(24.42,209),(24.52,192),(24.62,199),(24.72,206),(24.82,213),(24.92,201),(25.02,218),(25.12,212),(25.22,224),
 (25.32,206),(25.42,220),(25.52,213),(25.62,208),(25.72,217),(25.82,222),(25.92,209),(26.02,220),(26.12,216),(26.22,226),
 (26.32,212),(26.42,235),(26.52,221),(26.62,229),(26.72,222),(26.82,233),(26.92,228),(27.02,236),(27.12,223),(27.22,240),
 (27.32,226),(27.42,233),(27.52,226),(27.62,240),(27.72,228),(27.82,238),(27.92,230),(28.02,235),(28.12,225),(28.22,243),
]

# ---------------- styling ----------------
RED = "#ff0000"
BLUE = "#0000cc"
FONT = "Liberation Sans"
FS = "20px"
X_LABEL = "Chamber temperature (\u00baC)"


def src(points):
    return ColumnDataSource(dict(x=[p[0] for p in points], y=[p[1] for p in points]))


def make_fig(height, b_top, b_bottom, frame_h, yr, yticks, ylabel, gual, muh,
             xlab_standoff, xtitle_standoff):
    p = figure(width=755, height=height,
               x_range=Range1d(19.466, 42.135), y_range=Range1d(*yr),
               output_backend="svg", toolbar_location=None,
               min_border_left=118, min_border_right=0,
               min_border_top=b_top, min_border_bottom=b_bottom)
    p.grid.visible = False
    p.outline_line_color = None
    for ax in (p.xaxis[0], p.yaxis[0]):
        ax.axis_line_width = 2
        ax.axis_line_color = "black"
        ax.major_tick_line_width = 2
        ax.major_tick_line_color = "black"
        ax.major_tick_in = 8
        ax.major_tick_out = 8
        ax.minor_tick_line_color = None
        ax.major_label_text_font = FONT
        ax.major_label_text_font_size = FS
        ax.major_label_text_color = "black"
        ax.axis_label_text_font = FONT
        ax.axis_label_text_font_size = FS
        ax.axis_label_text_font_style = "normal"
        ax.axis_label_text_color = "black"
    p.xaxis.ticker = FixedTicker(ticks=x_ticks)
    p.yaxis.ticker = FixedTicker(ticks=yticks)
    p.xaxis.major_label_standoff = xlab_standoff
    p.yaxis.major_label_standoff = 8
    p.xaxis.axis_label = X_LABEL
    p.xaxis.axis_label_standoff = xtitle_standoff
    p.yaxis.axis_label = ylabel
    p.yaxis.axis_label_standoff = 10
    p.yaxis.axis_label_text_line_height = 1.3

    rg = p.scatter("x", "y", source=src(gual), marker="square", size=5,
                   fill_color=RED, line_color=None)
    rb = p.scatter("x", "y", source=src(muh), marker="square", size=5,
                   fill_color=BLUE, line_color=None)
    leg = Legend(items=[LegendItem(label=series_names[0], renderers=[rg]),
                        LegendItem(label=series_names[1], renderers=[rb])],
                 location=(12, frame_h - 45), border_line_color=None,
                 background_fill_alpha=0, padding=0, margin=0, spacing=0,
                 glyph_width=20, glyph_height=20, label_height=20,
                 label_standoff=20, label_text_font=FONT,
                 label_text_font_size=FS, label_text_color="black")
    p.add_layout(leg)
    return p


p1 = make_fig(480, 11, 96, 373, (298.8, 445.5), y_ticks_top,
              "LEO-derived optical diameter for\nparticles without rBC (nm)",
              gual_top + gual_top_core, muh_top + muh_top_core, 18, 5)
p2 = make_fig(469, 25, 68, 376, (142.4, 277.2), y_ticks_bot,
              "LEO-derived optical diameter for\nrBC-containing particles (nm)",
              gual_bot + gual_bot_core, muh_bot + muh_bot_core, 15, 3)

layout = column(p1, p2, spacing=0)
open("out.html", "w").write(file_html(layout, INLINE))
